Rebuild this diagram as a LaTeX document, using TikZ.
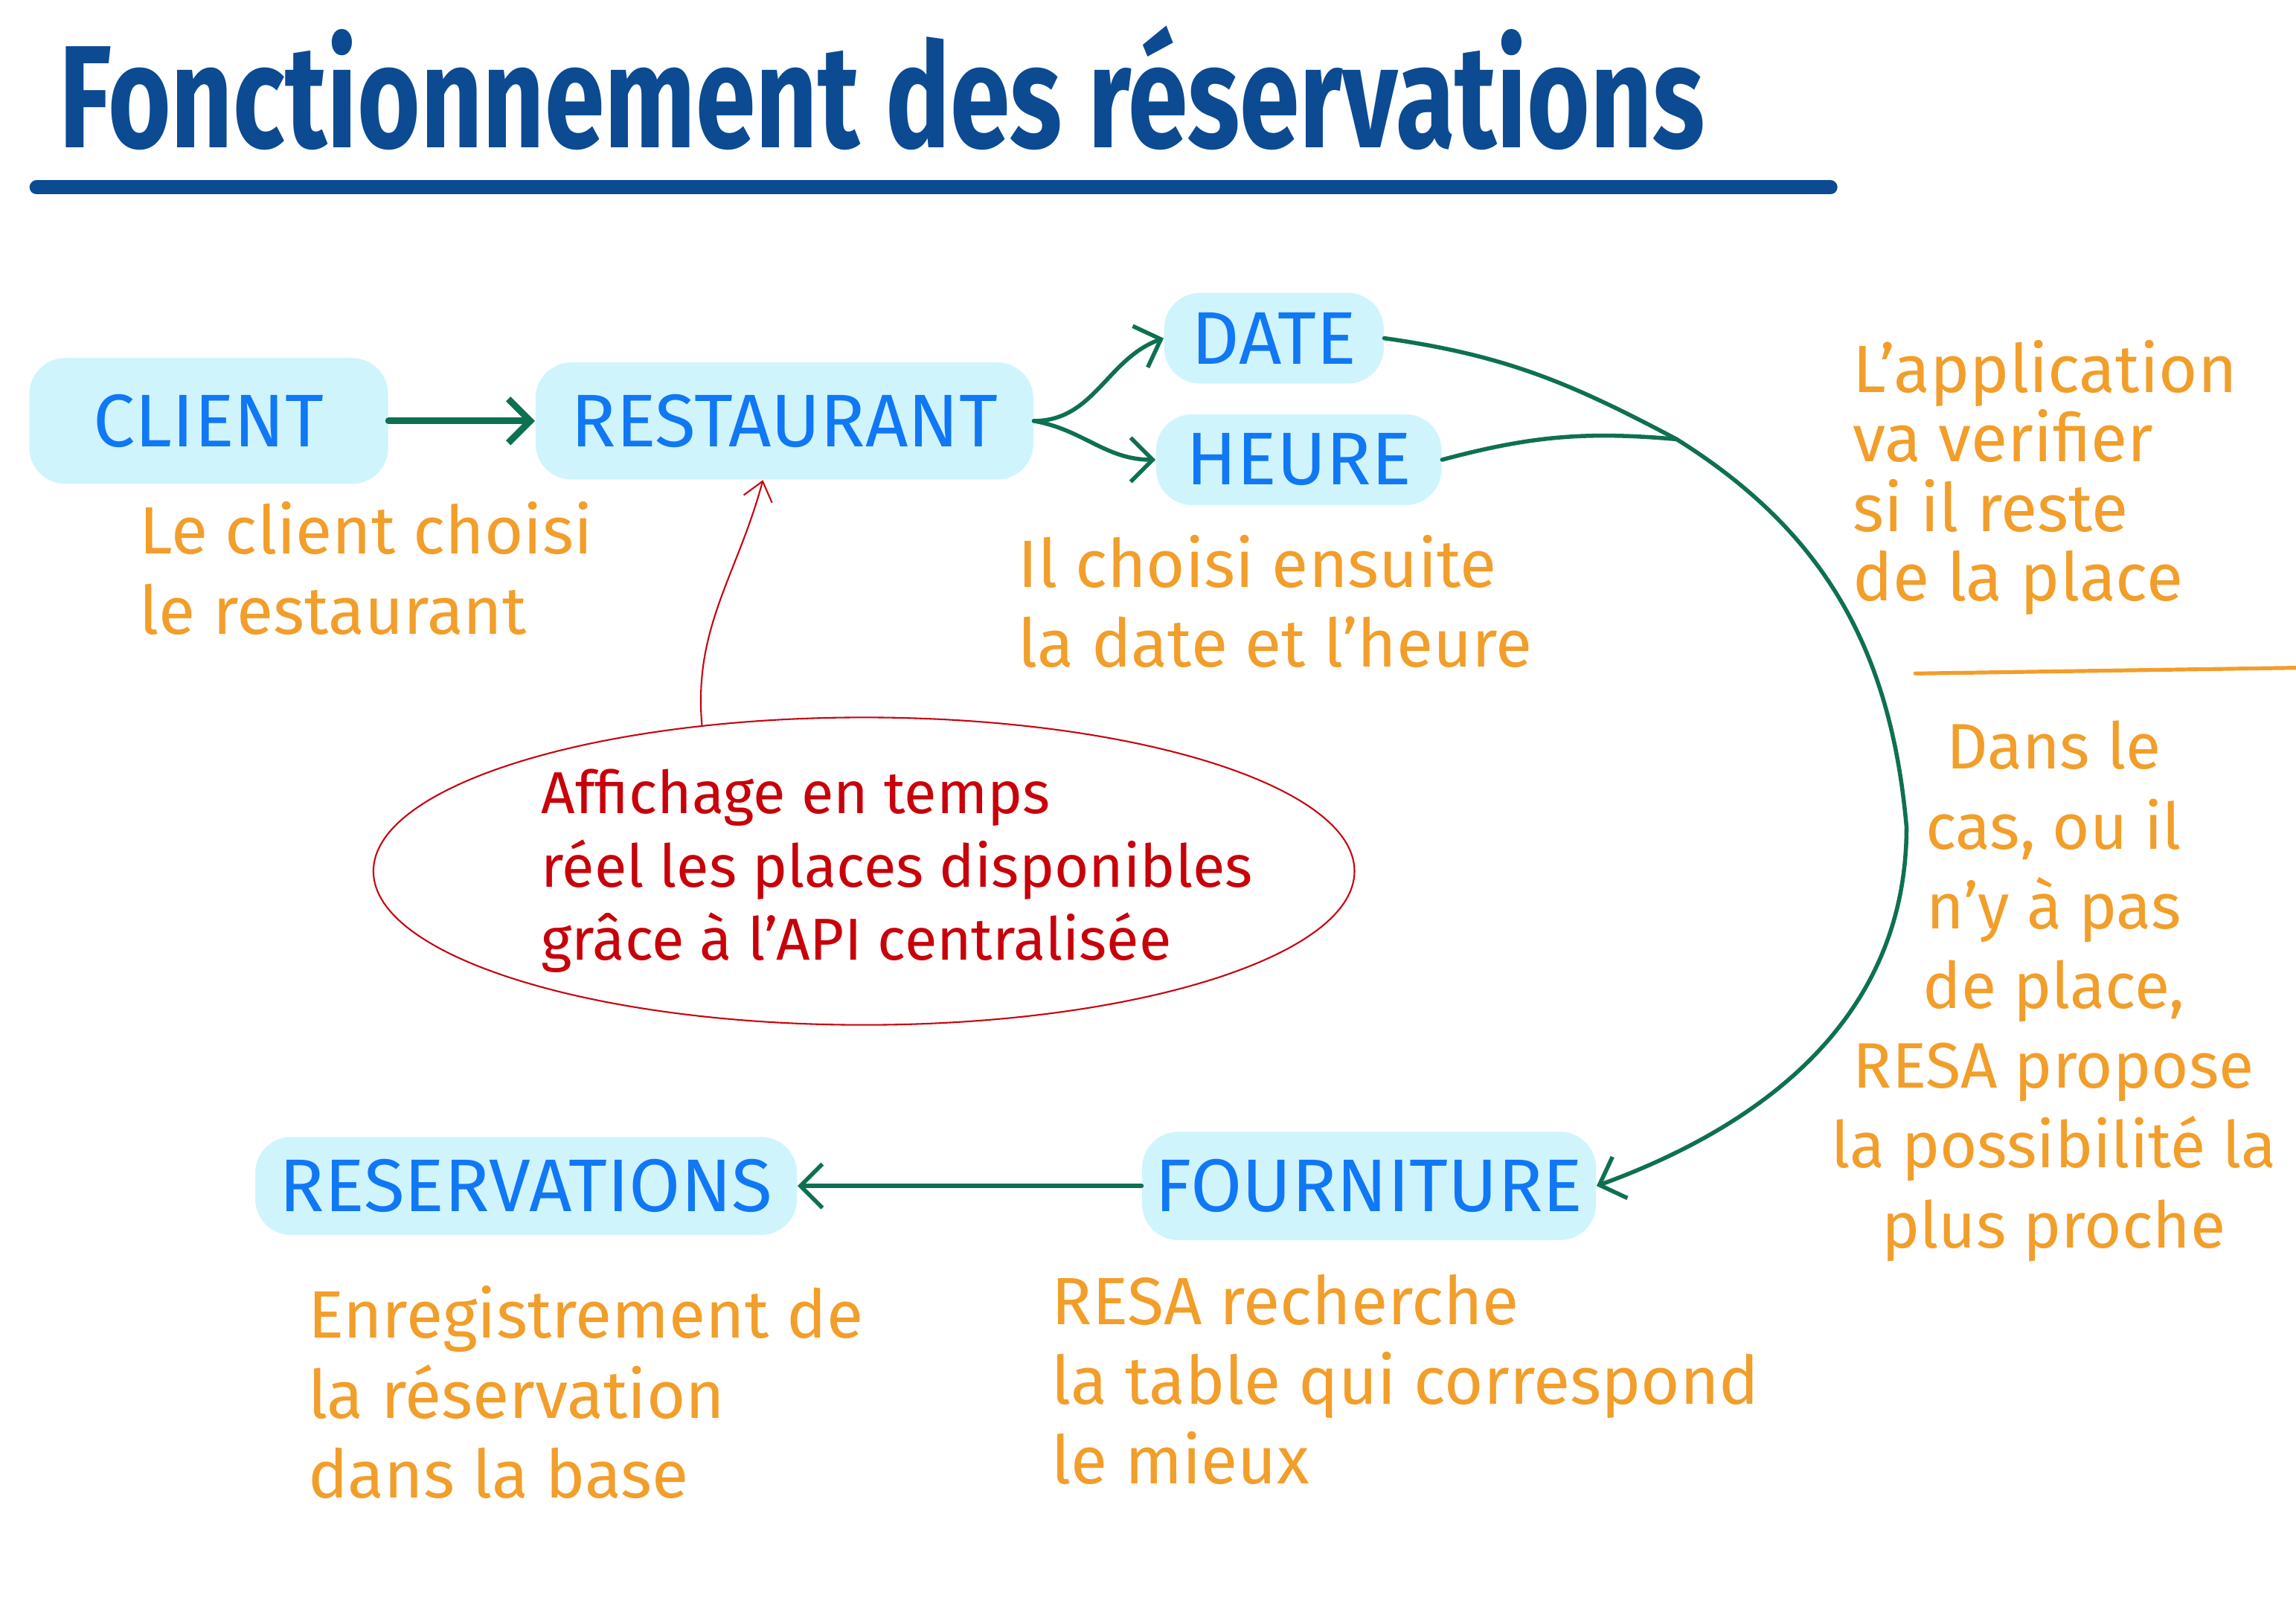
\documentclass[tikz,border=0pt]{standalone}
\usepackage{fontspec}
\setmainfont{Fira Sans}
\usepackage{xcolor}
\usepackage{tikz}
\usetikzlibrary{arrows.meta,positioning,shapes.geometric}

\definecolor{titreblue}{RGB}{12,74,145}
\definecolor{labelblue}{RGB}{16,120,245}
\definecolor{surligne}{RGB}{208,244,252}
\definecolor{fluxgreen}{RGB}{14,112,82}
\definecolor{noteorange}{RGB}{242,158,42}
\definecolor{infored}{RGB}{200,0,10}

\begin{document}
\begin{tikzpicture}[
  etape/.style={fill=surligne, rounded corners=14pt, text=labelblue, font=\fontsize{29}{35}\selectfont, inner sep=0pt},
  note/.style={text=noteorange, align=left, font=\fontsize{26}{31}\selectfont, inner sep=0pt},
  flux/.style={-{Straight Barb[length=3mm, width=6mm]}, fluxgreen, line width=1.6pt, line cap=round},
  info/.style={-{Straight Barb[length=2.5mm, width=4mm]}, infored, line width=0.6pt}
]
\useasboundingbox (0,0) rectangle (31.36,-22.18);

% titre
\node[anchor=west, inner sep=0pt, text=titreblue, font=\fontsize{42}{48}\selectfont\bfseries] (titre) at (0.8,-1.2) {\scalebox{1}[1.35]{Fonctionnement des réservations}};
\draw[titreblue, line width=5.5pt, line cap=round] (0.5,-2.56) -- (25,-2.56);

% etapes
\node[etape, minimum width=4.9cm, minimum height=1.72cm] (client) at (2.85,-5.75) {CLIENT};
\node[etape, minimum width=6.8cm, minimum height=1.6cm, right=2cm of client] (restaurant) {RESTAURANT};
\node[etape, minimum width=3.0cm, minimum height=1.24cm] (date) at (17.4,-4.62) {DATE};
\node[etape, minimum width=3.9cm, minimum height=1.24cm] (heure) at (17.74,-6.28) {HEURE};
\node[etape, minimum width=6.2cm, minimum height=1.48cm] (fourniture) at (18.7,-16.2) {FOURNITURE};
\node[etape, minimum width=7.4cm, minimum height=1.34cm, left=4.7cm of fourniture] (reservations) {RESERVATIONS};

% notes
\node[note, anchor=north west] (clientnote) at (1.9,-6.85) {Le client choisi\\le restaurant};
\node[note, anchor=north west] (datenote) at (13.9,-7.3) {Il choisi ensuite\\la date et l'heure};
\node[note, anchor=north west, font=\fontsize{26}{27}\selectfont] (appnote) at (25.3,-4.64) {L'application\\va verifier\\si il reste\\de la place};
\draw[noteorange, line width=1.5pt, line cap=round] (26.16,-9.2) -- (31.5,-9.12);
\node[note, anchor=north, align=center, font=\fontsize{25}{31}\selectfont] (casnote) at (28.05,-9.84) {Dans le\\cas, ou il\\n'y à pas\\de place,\\RESA propose\\la possibilité la\\plus proche};
\node[note, anchor=north west] (resanote) at (4.2,-17.56) {Enregistrement de\\la réservation\\dans la base};
\node[note, anchor=north west] (fournote) at (14.36,-17.4) {RESA recherche\\la table qui correspond\\le mieux};

% API
\node[draw=infored, line width=0.6pt, ellipse, minimum width=13.4cm, minimum height=4.2cm] (affichage) at (11.8,-11.9) {};
\node[text=infored, align=left, inner sep=0pt, font=\fontsize{23}{28.5}\selectfont] (affichagetext) at (12.25,-11.9) {Affichage en temps\\réel les places disponibles\\grâce à l'API centralisée};

% flux
\coordinate (merge) at (22.9,-6.0);
\coordinate (bend) at (26.04,-11.3);
\draw[flux, line width=2.6pt] (client) -- (restaurant);
\draw[flux] (restaurant.east) to[out=0, in=200] (date.west);
\draw[flux] (restaurant.east) to[out=-10, in=180] (heure.west);
\draw[flux] (date.east) to[out=-8, in=152] (merge) to[out=-32, in=95] (bend) to[out=-90, in=20] (fourniture.east);
\draw[fluxgreen, line width=1.6pt, line cap=round] (heure.east) to[out=15, in=175] (merge);
\draw[flux] (fourniture) -- (reservations);
\draw[info] (affichage.138) to[out=95, in=-105] (restaurant.250);
\end{tikzpicture}
\end{document}
